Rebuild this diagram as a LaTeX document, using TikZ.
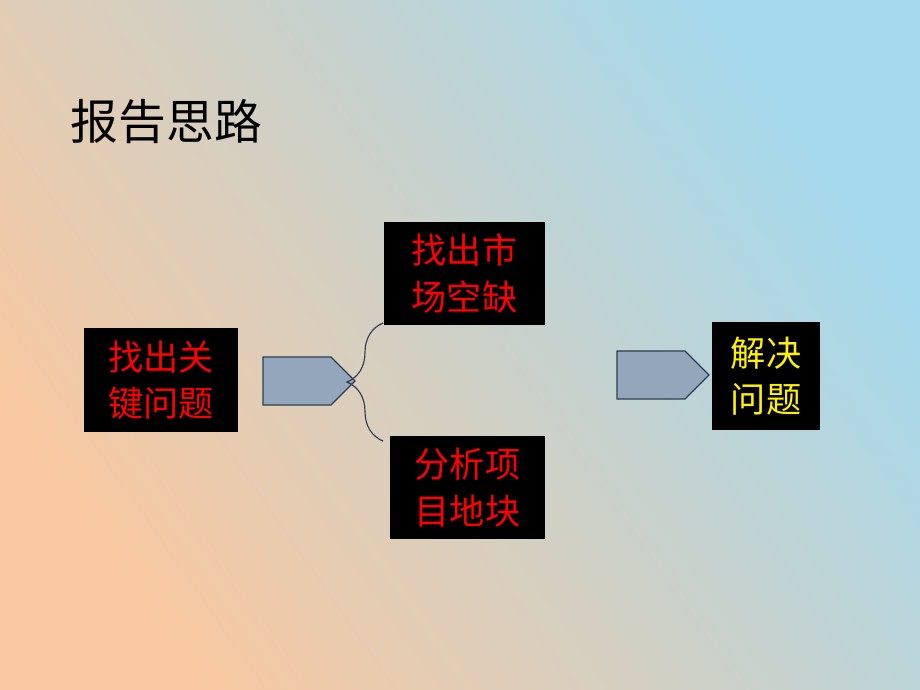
\documentclass[tikz,border=0pt]{standalone}
\usepackage{fontspec}
\setmainfont{Noto Sans CJK SC}
\usetikzlibrary{positioning}
\usetikzlibrary{shapes.arrows}
\usetikzlibrary{decorations.pathreplacing}
\definecolor{peach}{HTML}{F9C8A0}
\definecolor{skyb}{HTML}{A4D9EE}
\definecolor{arrowfill}{HTML}{94A6BC}
\definecolor{arrowline}{HTML}{2E3E50}
\tikzset{
    stepbox/.style = {fill=black, inner sep=0pt, align=left, font=\fontsize{25}{33}\selectfont},
    redbox/.style = {stepbox, text=red},
    yelbox/.style = {stepbox, text=yellow},
    bigarrow/.style = {single arrow, draw=arrowline, thick, fill=arrowfill, minimum height=2.3cm, minimum width=1.2cm, single arrow head extend=0pt, single arrow tip angle=90, inner sep=0pt}
}
\begin{document}
\begin{tikzpicture}[x=0.025cm,y=-0.025cm]
%
\shade[left color=peach, right color=skyb, shading angle=125] (0,0) rectangle (920,690);
\useasboundingbox (0,0) rectangle (920,690);
%
\node[anchor=west, font=\fontsize{34}{40}\selectfont] at (66,122) (title) {报告思路};
%
\node[redbox, minimum width=3.85cm, minimum height=2.6cm] at (161,380) (key) {找出关\\键问题};
\node[redbox, minimum width=4.02cm, minimum height=2.58cm] at (464.5,273.5) (gap) {找出市\\场空缺};
\node[redbox, minimum width=3.88cm, minimum height=2.58cm] at (467.5,487.5) (land) {分析项\\目地块};
\node[yelbox, minimum width=2.7cm, minimum height=2.7cm] at (766,376) (solve) {解决\\问题};
%
\node[bigarrow] at (297,381) (arr1) {};
\node[bigarrow] at (651,375) (arr2) {};
%
\coordinate (btop) at (383,323);
\coordinate (bbot) at (383,441);
\draw[arrowline, thick, decoration={brace, amplitude=0.9cm}, decorate] (bbot) -- (btop);
\end{tikzpicture}
\end{document}
